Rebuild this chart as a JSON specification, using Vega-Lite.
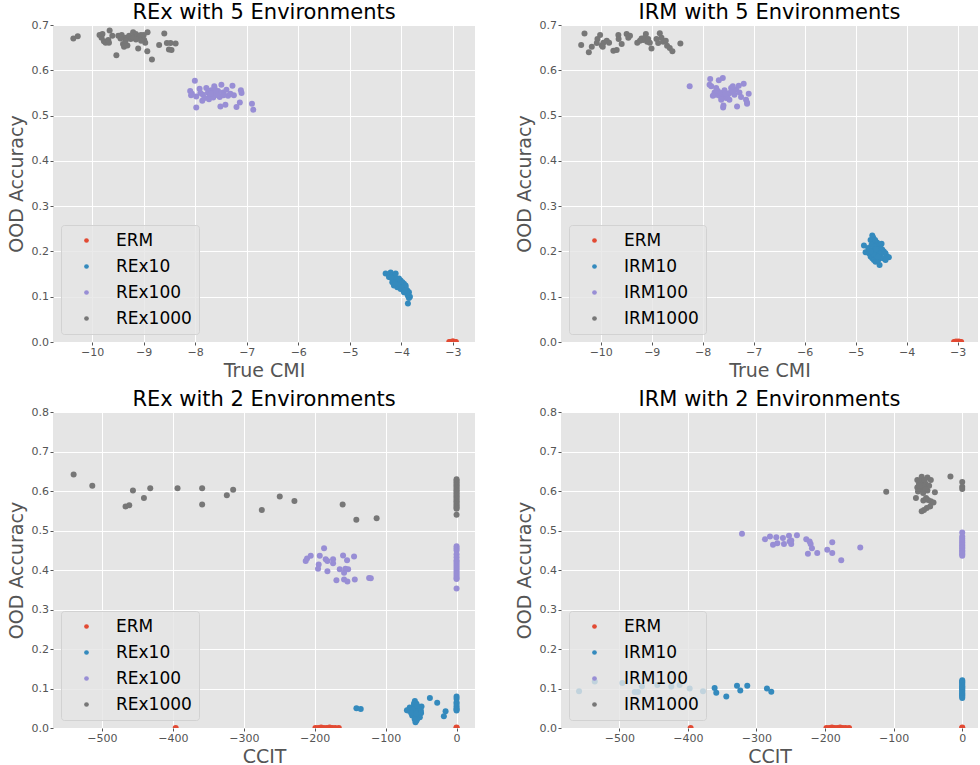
{
  "$schema": "https://vega.github.io/schema/vega-lite/v6.json",
  "background": "white",
  "padding": {"left": 7, "top": 1, "right": 0, "bottom": 0},
  "datasets": {
    "rex5": [
      {"m":"ERM","x":-3.07,"y":0},{"m":"ERM","x":-3.05,"y":0},{"m":"ERM","x":-3.03,"y":0},{"m":"ERM","x":-3.01,"y":0.001},{"m":"ERM","x":-3.0,"y":0},{"m":"ERM","x":-2.99,"y":0.001},{"m":"ERM","x":-2.97,"y":0},{"m":"ERM","x":-2.96,"y":0},{"m":"ERM","x":-2.94,"y":0},
      {"m":"REx10","x":-4.304,"y":0.151},{"m":"REx10","x":-4.207,"y":0.1535},{"m":"REx10","x":-4.24,"y":0.1436},{"m":"REx10","x":-4.175,"y":0.147},{"m":"REx10","x":-4.143,"y":0.136},{"m":"REx10","x":-4.11,"y":0.14},{"m":"REx10","x":-4.078,"y":0.132},{"m":"REx10","x":-4.046,"y":0.1287},{"m":"REx10","x":-4.013,"y":0.136},{"m":"REx10","x":-3.98,"y":0.125},{"m":"REx10","x":-3.949,"y":0.1287},{"m":"REx10","x":-3.917,"y":0.121},{"m":"REx10","x":-3.884,"y":0.1135},{"m":"REx10","x":-3.852,"y":0.1097},{"m":"REx10","x":-3.872,"y":0.102},{"m":"REx10","x":-3.833,"y":0.1},{"m":"REx10","x":-3.872,"y":0.085},{"m":"REx10","x":-4.143,"y":0.125},{"m":"REx10","x":-4.078,"y":0.121},{"m":"REx10","x":-4.013,"y":0.117},{"m":"REx10","x":-3.949,"y":0.117},{"m":"REx10","x":-3.897,"y":0.1097},{"m":"REx10","x":-4.11,"y":0.151},{"m":"REx10","x":-4.175,"y":0.132},{"m":"REx10","x":-4.046,"y":0.14},{"m":"REx10","x":-3.98,"y":0.132},{"m":"REx10","x":-3.917,"y":0.125},{"m":"REx10","x":-3.884,"y":0.106},{"m":"REx10","x":-3.852,"y":0.097},{"m":"REx10","x":-3.949,"y":0.1097},{"m":"REx10","x":-4.2,"y":0.142},{"m":"REx10","x":-4.06,"y":0.125},{"m":"REx10","x":-3.99,"y":0.12},{"m":"REx10","x":-3.93,"y":0.113},{"m":"REx10","x":-4.12,"y":0.128},
      {"m":"REx100","x":-8.007,"y":0.577},{"m":"REx100","x":-8.098,"y":0.554},{"m":"REx100","x":-8.065,"y":0.548},{"m":"REx100","x":-7.98,"y":0.542},{"m":"REx100","x":-7.915,"y":0.559},{"m":"REx100","x":-7.85,"y":0.546},{"m":"REx100","x":-7.785,"y":0.561},{"m":"REx100","x":-7.752,"y":0.551},{"m":"REx100","x":-7.72,"y":0.542},{"m":"REx100","x":-7.687,"y":0.556},{"m":"REx100","x":-7.655,"y":0.55},{"m":"REx100","x":-7.622,"y":0.559},{"m":"REx100","x":-7.59,"y":0.546},{"m":"REx100","x":-7.557,"y":0.554},{"m":"REx100","x":-7.524,"y":0.541},{"m":"REx100","x":-7.492,"y":0.568},{"m":"REx100","x":-7.459,"y":0.551},{"m":"REx100","x":-7.394,"y":0.557},{"m":"REx100","x":-7.362,"y":0.544},{"m":"REx100","x":-7.316,"y":0.548},{"m":"REx100","x":-7.277,"y":0.566},{"m":"REx100","x":-7.863,"y":0.533},{"m":"REx100","x":-7.98,"y":0.518},{"m":"REx100","x":-7.511,"y":0.52},{"m":"REx100","x":-7.414,"y":0.524},{"m":"REx100","x":-7.199,"y":0.519},{"m":"REx100","x":-7.134,"y":0.529},{"m":"REx100","x":-7.101,"y":0.55},{"m":"REx100","x":-7.114,"y":0.556},{"m":"REx100","x":-6.899,"y":0.526},{"m":"REx100","x":-6.873,"y":0.513},{"m":"REx100","x":-7.818,"y":0.539},{"m":"REx100","x":-7.733,"y":0.536},{"m":"REx100","x":-8.08,"y":0.545},{"m":"REx100","x":-7.6,"y":0.553},{"m":"REx100","x":-7.65,"y":0.54},{"m":"REx100","x":-7.7,"y":0.548},{"m":"REx100","x":-7.55,"y":0.545},{"m":"REx100","x":-7.45,"y":0.545},{"m":"REx100","x":-7.25,"y":0.545},{"m":"REx100","x":-7.9,"y":0.55},{"m":"REx100","x":-7.63,"y":0.565},
      {"m":"REx1000","x":-10.365,"y":0.67},{"m":"REx1000","x":-10.28,"y":0.675},{"m":"REx1000","x":-9.857,"y":0.678},{"m":"REx1000","x":-9.818,"y":0.672},{"m":"REx1000","x":-9.772,"y":0.664},{"m":"REx1000","x":-9.739,"y":0.661},{"m":"REx1000","x":-9.687,"y":0.667},{"m":"REx1000","x":-9.661,"y":0.688},{"m":"REx1000","x":-9.609,"y":0.676},{"m":"REx1000","x":-9.674,"y":0.661},{"m":"REx1000","x":-9.492,"y":0.676},{"m":"REx1000","x":-9.427,"y":0.678},{"m":"REx1000","x":-9.401,"y":0.658},{"m":"REx1000","x":-9.381,"y":0.652},{"m":"REx1000","x":-9.316,"y":0.655},{"m":"REx1000","x":-9.349,"y":0.672},{"m":"REx1000","x":-9.283,"y":0.676},{"m":"REx1000","x":-9.251,"y":0.669},{"m":"REx1000","x":-9.205,"y":0.684},{"m":"REx1000","x":-9.153,"y":0.68},{"m":"REx1000","x":-9.12,"y":0.676},{"m":"REx1000","x":-9.088,"y":0.672},{"m":"REx1000","x":-9.055,"y":0.678},{"m":"REx1000","x":-9.023,"y":0.672},{"m":"REx1000","x":-8.99,"y":0.667},{"m":"REx1000","x":-8.97,"y":0.661},{"m":"REx1000","x":-8.925,"y":0.684},{"m":"REx1000","x":-9.107,"y":0.648},{"m":"REx1000","x":-8.93,"y":0.642},{"m":"REx1000","x":-8.84,"y":0.624},{"m":"REx1000","x":-9.53,"y":0.633},{"m":"REx1000","x":-8.7,"y":0.656},{"m":"REx1000","x":-8.6,"y":0.681},{"m":"REx1000","x":-8.55,"y":0.66},{"m":"REx1000","x":-8.48,"y":0.66},{"m":"REx1000","x":-8.38,"y":0.659},{"m":"REx1000","x":-8.51,"y":0.646},{"m":"REx1000","x":-8.46,"y":0.645},{"m":"REx1000","x":-9.2,"y":0.672},{"m":"REx1000","x":-9.05,"y":0.665},{"m":"REx1000","x":-9.15,"y":0.668},{"m":"REx1000","x":-9.35,"y":0.665},{"m":"REx1000","x":-9.0,"y":0.678},{"m":"REx1000","x":-9.45,"y":0.67},{"m":"REx1000","x":-9.8,"y":0.68}
    ],
    "irm5": [
      {"m":"ERM","x":-3.07,"y":0},{"m":"ERM","x":-3.05,"y":0},{"m":"ERM","x":-3.03,"y":0.001},{"m":"ERM","x":-3.01,"y":0},{"m":"ERM","x":-3.0,"y":0},{"m":"ERM","x":-2.98,"y":0.001},{"m":"ERM","x":-2.97,"y":0},{"m":"ERM","x":-2.95,"y":0},{"m":"ERM","x":-2.93,"y":0},
      {"m":"IRM10","x":-4.674,"y":0.235},{"m":"IRM10","x":-4.655,"y":0.23},{"m":"IRM10","x":-4.707,"y":0.225},{"m":"IRM10","x":-4.837,"y":0.213},{"m":"IRM10","x":-4.609,"y":0.2226},{"m":"IRM10","x":-4.577,"y":0.219},{"m":"IRM10","x":-4.544,"y":0.211},{"m":"IRM10","x":-4.512,"y":0.2075},{"m":"IRM10","x":-4.479,"y":0.204},{"m":"IRM10","x":-4.447,"y":0.2},{"m":"IRM10","x":-4.414,"y":0.196},{"m":"IRM10","x":-4.382,"y":0.189},{"m":"IRM10","x":-4.349,"y":0.187},{"m":"IRM10","x":-4.753,"y":0.2075},{"m":"IRM10","x":-4.74,"y":0.196},{"m":"IRM10","x":-4.707,"y":0.189},{"m":"IRM10","x":-4.674,"y":0.185},{"m":"IRM10","x":-4.642,"y":0.181},{"m":"IRM10","x":-4.609,"y":0.177},{"m":"IRM10","x":-4.531,"y":0.17},{"m":"IRM10","x":-4.557,"y":0.181},{"m":"IRM10","x":-4.596,"y":0.192},{"m":"IRM10","x":-4.642,"y":0.204},{"m":"IRM10","x":-4.577,"y":0.2},{"m":"IRM10","x":-4.688,"y":0.215},{"m":"IRM10","x":-4.512,"y":0.192},{"m":"IRM10","x":-4.466,"y":0.185},{"m":"IRM10","x":-4.805,"y":0.198},{"m":"IRM10","x":-4.492,"y":0.217},{"m":"IRM10","x":-4.622,"y":0.211},{"m":"IRM10","x":-4.544,"y":0.196},{"m":"IRM10","x":-4.727,"y":0.204},{"m":"IRM10","x":-4.414,"y":0.181},{"m":"IRM10","x":-4.65,"y":0.195},{"m":"IRM10","x":-4.6,"y":0.205},{"m":"IRM10","x":-4.56,"y":0.188},{"m":"IRM10","x":-4.7,"y":0.2},{"m":"IRM10","x":-4.62,"y":0.225},
      {"m":"IRM100","x":-8.256,"y":0.565},{"m":"IRM100","x":-7.853,"y":0.581},{"m":"IRM100","x":-7.866,"y":0.568},{"m":"IRM100","x":-7.833,"y":0.565},{"m":"IRM100","x":-7.684,"y":0.578},{"m":"IRM100","x":-7.606,"y":0.583},{"m":"IRM100","x":-7.768,"y":0.551},{"m":"IRM100","x":-7.736,"y":0.546},{"m":"IRM100","x":-7.703,"y":0.554},{"m":"IRM100","x":-7.671,"y":0.544},{"m":"IRM100","x":-7.638,"y":0.55},{"m":"IRM100","x":-7.606,"y":0.541},{"m":"IRM100","x":-7.573,"y":0.556},{"m":"IRM100","x":-7.541,"y":0.539},{"m":"IRM100","x":-7.508,"y":0.546},{"m":"IRM100","x":-7.476,"y":0.55},{"m":"IRM100","x":-7.443,"y":0.561},{"m":"IRM100","x":-7.41,"y":0.554},{"m":"IRM100","x":-7.378,"y":0.546},{"m":"IRM100","x":-7.345,"y":0.557},{"m":"IRM100","x":-7.293,"y":0.566},{"m":"IRM100","x":-7.196,"y":0.57},{"m":"IRM100","x":-7.28,"y":0.551},{"m":"IRM100","x":-7.248,"y":0.541},{"m":"IRM100","x":-7.593,"y":0.522},{"m":"IRM100","x":-7.326,"y":0.52},{"m":"IRM100","x":-7.15,"y":0.535},{"m":"IRM100","x":-7.131,"y":0.529},{"m":"IRM100","x":-7.098,"y":0.548},{"m":"IRM100","x":-7.801,"y":0.544},{"m":"IRM100","x":-7.736,"y":0.561},{"m":"IRM100","x":-7.638,"y":0.535},{"m":"IRM100","x":-7.554,"y":0.548},{"m":"IRM100","x":-7.476,"y":0.535},{"m":"IRM100","x":-7.41,"y":0.565},{"m":"IRM100","x":-7.6,"y":0.518},{"m":"IRM100","x":-7.13,"y":0.526},
      {"m":"IRM1000","x":-10.384,"y":0.656},{"m":"IRM1000","x":-10.319,"y":0.681},{"m":"IRM1000","x":-10.234,"y":0.64},{"m":"IRM1000","x":-10.176,"y":0.652},{"m":"IRM1000","x":-10.078,"y":0.66},{"m":"IRM1000","x":-10.065,"y":0.669},{"m":"IRM1000","x":-10.013,"y":0.678},{"m":"IRM1000","x":-9.98,"y":0.655},{"m":"IRM1000","x":-9.948,"y":0.661},{"m":"IRM1000","x":-9.883,"y":0.665},{"m":"IRM1000","x":-9.837,"y":0.661},{"m":"IRM1000","x":-9.753,"y":0.643},{"m":"IRM1000","x":-9.688,"y":0.645},{"m":"IRM1000","x":-9.655,"y":0.678},{"m":"IRM1000","x":-9.649,"y":0.669},{"m":"IRM1000","x":-9.59,"y":0.658},{"m":"IRM1000","x":-9.493,"y":0.68},{"m":"IRM1000","x":-9.427,"y":0.676},{"m":"IRM1000","x":-9.284,"y":0.661},{"m":"IRM1000","x":-9.232,"y":0.665},{"m":"IRM1000","x":-9.2,"y":0.67},{"m":"IRM1000","x":-9.167,"y":0.667},{"m":"IRM1000","x":-9.115,"y":0.68},{"m":"IRM1000","x":-9.089,"y":0.663},{"m":"IRM1000","x":-9.037,"y":0.661},{"m":"IRM1000","x":-9.005,"y":0.648},{"m":"IRM1000","x":-8.907,"y":0.669},{"m":"IRM1000","x":-8.874,"y":0.66},{"m":"IRM1000","x":-8.842,"y":0.682},{"m":"IRM1000","x":-8.809,"y":0.672},{"m":"IRM1000","x":-8.777,"y":0.663},{"m":"IRM1000","x":-8.725,"y":0.665},{"m":"IRM1000","x":-8.699,"y":0.654},{"m":"IRM1000","x":-8.647,"y":0.649},{"m":"IRM1000","x":-8.595,"y":0.642},{"m":"IRM1000","x":-8.438,"y":0.659},{"m":"IRM1000","x":-9.135,"y":0.672},{"m":"IRM1000","x":-9.07,"y":0.669},{"m":"IRM1000","x":-9.961,"y":0.652},{"m":"IRM1000","x":-9.46,"y":0.672}
    ],
    "rex2": [
      {"m":"ERM","x":-396,"y":0},{"m":"ERM","x":-199,"y":0},{"m":"ERM","x":-195,"y":0},{"m":"ERM","x":-191,"y":0.001},{"m":"ERM","x":-187,"y":0},{"m":"ERM","x":-183,"y":0},{"m":"ERM","x":-179,"y":0.001},{"m":"ERM","x":-175,"y":0},{"m":"ERM","x":-171,"y":0},{"m":"ERM","x":-166,"y":0},{"m":"ERM","x":0,"y":0},{"m":"ERM","x":0,"y":0.001},
      {"m":"REx10","x":-141.2,"y":0.05},{"m":"REx10","x":-135.1,"y":0.048},{"m":"REx10","x":-58.8,"y":0.0681},{"m":"REx10","x":-68.2,"y":0.0443},{"m":"REx10","x":-65.9,"y":0.0485},{"m":"REx10","x":-61.2,"y":0.0357},{"m":"REx10","x":-58.8,"y":0.0272},{"m":"REx10","x":-56.5,"y":0.0187},{"m":"REx10","x":-54.1,"y":0.04},{"m":"REx10","x":-51.8,"y":0.0528},{"m":"REx10","x":-49.4,"y":0.0545},{"m":"REx10","x":-56.5,"y":0.0613},{"m":"REx10","x":-63.5,"y":0.04},{"m":"REx10","x":-61.2,"y":0.0528},{"m":"REx10","x":-58.8,"y":0.0443},{"m":"REx10","x":-54.1,"y":0.0315},{"m":"REx10","x":-51.8,"y":0.0272},{"m":"REx10","x":-57.9,"y":0.0145},{"m":"REx10","x":-55.5,"y":0.023},{"m":"REx10","x":-62.6,"y":0.0315},{"m":"REx10","x":-59.8,"y":0.057},{"m":"REx10","x":-50.4,"y":0.0443},{"m":"REx10","x":-60,"y":0.062},{"m":"REx10","x":-52,"y":0.035},{"m":"REx10","x":-57,"y":0.05},{"m":"REx10","x":-66,"y":0.052},{"m":"REx10","x":-53,"y":0.048},{"m":"REx10","x":-59,"y":0.022},{"m":"REx10","x":-55,"y":0.043},{"m":"REx10","x":-62,"y":0.046},{"m":"REx10","x":-56,"y":0.057},{"m":"REx10","x":-64,"y":0.038},{"m":"REx10","x":-50,"y":0.038},{"m":"REx10","x":-70,"y":0.045},{"m":"REx10","x":-57,"y":0.036},{"m":"REx10","x":-37.6,"y":0.0757},{"m":"REx10","x":-27.3,"y":0.0638},{"m":"REx10","x":-15.5,"y":0.0426},{"m":"REx10","x":-17.9,"y":0.0298},{"m":"REx10","x":0,"y":0.08},{"m":"REx10","x":0,"y":0.074},{"m":"REx10","x":0,"y":0.065},{"m":"REx10","x":0,"y":0.061},{"m":"REx10","x":0,"y":0.055},{"m":"REx10","x":0,"y":0.05},{"m":"REx10","x":0,"y":0.047},{"m":"REx10","x":0,"y":0.044},
      {"m":"REx100","x":-212.7,"y":0.423},{"m":"REx100","x":-210.8,"y":0.429},{"m":"REx100","x":-205.6,"y":0.436},{"m":"REx100","x":-192.9,"y":0.436},{"m":"REx100","x":-194.4,"y":0.414},{"m":"REx100","x":-195.3,"y":0.403},{"m":"REx100","x":-186.8,"y":0.455},{"m":"REx100","x":-184.5,"y":0.427},{"m":"REx100","x":-182.1,"y":0.423},{"m":"REx100","x":-182.1,"y":0.397},{"m":"REx100","x":-174.1,"y":0.427},{"m":"REx100","x":-174.1,"y":0.417},{"m":"REx100","x":-160,"y":0.437},{"m":"REx100","x":-154.4,"y":0.425},{"m":"REx100","x":-144.5,"y":0.434},{"m":"REx100","x":-164.7,"y":0.402},{"m":"REx100","x":-158.6,"y":0.393},{"m":"REx100","x":-156.7,"y":0.403},{"m":"REx100","x":-152.9,"y":0.402},{"m":"REx100","x":-169.4,"y":0.374},{"m":"REx100","x":-158.6,"y":0.376},{"m":"REx100","x":-153.9,"y":0.371},{"m":"REx100","x":-143.5,"y":0.376},{"m":"REx100","x":-123.3,"y":0.38},{"m":"REx100","x":-120.9,"y":0.379},{"m":"REx100","x":0,"y":0.46},{"m":"REx100","x":0,"y":0.455},{"m":"REx100","x":0,"y":0.45},{"m":"REx100","x":0,"y":0.44},{"m":"REx100","x":0,"y":0.432},{"m":"REx100","x":0,"y":0.425},{"m":"REx100","x":0,"y":0.42},{"m":"REx100","x":0,"y":0.415},{"m":"REx100","x":0,"y":0.41},{"m":"REx100","x":0,"y":0.405},{"m":"REx100","x":0,"y":0.4},{"m":"REx100","x":0,"y":0.395},{"m":"REx100","x":0,"y":0.39},{"m":"REx100","x":0,"y":0.385},{"m":"REx100","x":0,"y":0.38},{"m":"REx100","x":0,"y":0.377},{"m":"REx100","x":0,"y":0.353},
      {"m":"REx1000","x":-539.9,"y":0.642},{"m":"REx1000","x":-513.6,"y":0.613},{"m":"REx1000","x":-466.7,"y":0.561},{"m":"REx1000","x":-461.5,"y":0.564},{"m":"REx1000","x":-456.3,"y":0.601},{"m":"REx1000","x":-440.8,"y":0.582},{"m":"REx1000","x":-431.9,"y":0.607},{"m":"REx1000","x":-393.4,"y":0.607},{"m":"REx1000","x":-358.7,"y":0.607},{"m":"REx1000","x":-358.7,"y":0.566},{"m":"REx1000","x":-323.9,"y":0.589},{"m":"REx1000","x":-315,"y":0.603},{"m":"REx1000","x":-274.6,"y":0.552},{"m":"REx1000","x":-249.3,"y":0.586},{"m":"REx1000","x":-228.6,"y":0.575},{"m":"REx1000","x":-160.6,"y":0.566},{"m":"REx1000","x":-141.3,"y":0.527},{"m":"REx1000","x":-112.7,"y":0.531},{"m":"REx1000","x":0,"y":0.63},{"m":"REx1000","x":0,"y":0.626},{"m":"REx1000","x":0,"y":0.622},{"m":"REx1000","x":0,"y":0.618},{"m":"REx1000","x":0,"y":0.614},{"m":"REx1000","x":0,"y":0.61},{"m":"REx1000","x":0,"y":0.606},{"m":"REx1000","x":0,"y":0.602},{"m":"REx1000","x":0,"y":0.598},{"m":"REx1000","x":0,"y":0.594},{"m":"REx1000","x":0,"y":0.59},{"m":"REx1000","x":0,"y":0.586},{"m":"REx1000","x":0,"y":0.582},{"m":"REx1000","x":0,"y":0.578},{"m":"REx1000","x":0,"y":0.574},{"m":"REx1000","x":0,"y":0.57},{"m":"REx1000","x":0,"y":0.566},{"m":"REx1000","x":0,"y":0.562},{"m":"REx1000","x":0,"y":0.558},{"m":"REx1000","x":0,"y":0.555},{"m":"REx1000","x":0,"y":0.54}
    ],
    "irm2": [
      {"m":"ERM","x":-396,"y":0},{"m":"ERM","x":-198,"y":0},{"m":"ERM","x":-194,"y":0},{"m":"ERM","x":-190,"y":0.001},{"m":"ERM","x":-186,"y":0},{"m":"ERM","x":-182,"y":0},{"m":"ERM","x":-178,"y":0.001},{"m":"ERM","x":-174,"y":0},{"m":"ERM","x":-170,"y":0},{"m":"ERM","x":-165,"y":0},{"m":"ERM","x":0,"y":0},{"m":"ERM","x":0,"y":0.001},
      {"m":"IRM10","x":-558.7,"y":0.093},{"m":"IRM10","x":-535.8,"y":0.118},{"m":"IRM10","x":-495.6,"y":0.114},{"m":"IRM10","x":-477.5,"y":0.091},{"m":"IRM10","x":-472.7,"y":0.091},{"m":"IRM10","x":-466.9,"y":0.106},{"m":"IRM10","x":-444.6,"y":0.109},{"m":"IRM10","x":-424.2,"y":0.105},{"m":"IRM10","x":-412,"y":0.109},{"m":"IRM10","x":-397.4,"y":0.1},{"m":"IRM10","x":-378,"y":0.093},{"m":"IRM10","x":-361,"y":0.101},{"m":"IRM10","x":-358.6,"y":0.089},{"m":"IRM10","x":-344,"y":0.08},{"m":"IRM10","x":-328.4,"y":0.107},{"m":"IRM10","x":-323.6,"y":0.095},{"m":"IRM10","x":-313.4,"y":0.107},{"m":"IRM10","x":-284.7,"y":0.1},{"m":"IRM10","x":-278.4,"y":0.092},{"m":"IRM10","x":0,"y":0.121},{"m":"IRM10","x":0,"y":0.118},{"m":"IRM10","x":0,"y":0.115},{"m":"IRM10","x":0,"y":0.112},{"m":"IRM10","x":0,"y":0.109},{"m":"IRM10","x":0,"y":0.106},{"m":"IRM10","x":0,"y":0.103},{"m":"IRM10","x":0,"y":0.1},{"m":"IRM10","x":0,"y":0.097},{"m":"IRM10","x":0,"y":0.094},{"m":"IRM10","x":0,"y":0.091},{"m":"IRM10","x":0,"y":0.088},{"m":"IRM10","x":0,"y":0.085},{"m":"IRM10","x":0,"y":0.082},{"m":"IRM10","x":0,"y":0.079},{"m":"IRM10","x":0,"y":0.076},
      {"m":"IRM100","x":-321.1,"y":0.492},{"m":"IRM100","x":-287.6,"y":0.478},{"m":"IRM100","x":-280.3,"y":0.485},{"m":"IRM100","x":-275.9,"y":0.464},{"m":"IRM100","x":-271.1,"y":0.483},{"m":"IRM100","x":-269.6,"y":0.468},{"m":"IRM100","x":-261.4,"y":0.481},{"m":"IRM100","x":-259.9,"y":0.466},{"m":"IRM100","x":-252.6,"y":0.487},{"m":"IRM100","x":-249.3,"y":0.475},{"m":"IRM100","x":-249.3,"y":0.466},{"m":"IRM100","x":-241,"y":0.488},{"m":"IRM100","x":-227.4,"y":0.478},{"m":"IRM100","x":-222.5,"y":0.472},{"m":"IRM100","x":-221,"y":0.466},{"m":"IRM100","x":-219.1,"y":0.455},{"m":"IRM100","x":-225,"y":0.441},{"m":"IRM100","x":-211.4,"y":0.443},{"m":"IRM100","x":-196.8,"y":0.451},{"m":"IRM100","x":-189.5,"y":0.47},{"m":"IRM100","x":-189.5,"y":0.443},{"m":"IRM100","x":-176.4,"y":0.425},{"m":"IRM100","x":-148.7,"y":0.457},{"m":"IRM100","x":-251.6,"y":0.472},{"m":"IRM100","x":0,"y":0.495},{"m":"IRM100","x":0,"y":0.485},{"m":"IRM100","x":0,"y":0.48},{"m":"IRM100","x":0,"y":0.475},{"m":"IRM100","x":0,"y":0.47},{"m":"IRM100","x":0,"y":0.466},{"m":"IRM100","x":0,"y":0.462},{"m":"IRM100","x":0,"y":0.458},{"m":"IRM100","x":0,"y":0.455},{"m":"IRM100","x":0,"y":0.45},{"m":"IRM100","x":0,"y":0.447},{"m":"IRM100","x":0,"y":0.443},{"m":"IRM100","x":0,"y":0.44},{"m":"IRM100","x":0,"y":0.436},
      {"m":"IRM1000","x":-110.8,"y":0.598},{"m":"IRM1000","x":-17.2,"y":0.637},{"m":"IRM1000","x":0,"y":0.623},{"m":"IRM1000","x":0,"y":0.611},{"m":"IRM1000","x":0,"y":0.605},{"m":"IRM1000","x":-65.5,"y":0.628},{"m":"IRM1000","x":-59.1,"y":0.636},{"m":"IRM1000","x":-50.7,"y":0.634},{"m":"IRM1000","x":-45.8,"y":0.628},{"m":"IRM1000","x":-63.1,"y":0.618},{"m":"IRM1000","x":-58.1,"y":0.622},{"m":"IRM1000","x":-53.2,"y":0.618},{"m":"IRM1000","x":-48.3,"y":0.613},{"m":"IRM1000","x":-65.5,"y":0.609},{"m":"IRM1000","x":-60.6,"y":0.605},{"m":"IRM1000","x":-55.7,"y":0.609},{"m":"IRM1000","x":-50.7,"y":0.601},{"m":"IRM1000","x":-64.5,"y":0.599},{"m":"IRM1000","x":-39.9,"y":0.597},{"m":"IRM1000","x":-67.5,"y":0.582},{"m":"IRM1000","x":-56.7,"y":0.576},{"m":"IRM1000","x":-52.7,"y":0.582},{"m":"IRM1000","x":-49.8,"y":0.577},{"m":"IRM1000","x":-45.8,"y":0.574},{"m":"IRM1000","x":-41.9,"y":0.571},{"m":"IRM1000","x":-46.8,"y":0.561},{"m":"IRM1000","x":-51.7,"y":0.557},{"m":"IRM1000","x":-55.7,"y":0.552},{"m":"IRM1000","x":-59.1,"y":0.549},{"m":"IRM1000","x":-61.6,"y":0.626},{"m":"IRM1000","x":-54.7,"y":0.628},{"m":"IRM1000","x":-58.1,"y":0.613},{"m":"IRM1000","x":-53.2,"y":0.605},{"m":"IRM1000","x":-62,"y":0.613},{"m":"IRM1000","x":-57,"y":0.595}
    ]
  },
  "columns": 2,
  "spacing": {"row": 70, "column": 86},
  "bounds": "flush",
  "concat": [
    {
      "width": 422, "height": 317,
      "title": "REx with 5 Environments",
      "data": {"name": "rex5"},
      "mark": {"type": "circle", "size": 36, "opacity": 1, "clip": true},
      "encoding": {
        "x": {"field": "x", "type": "quantitative", "scale": {"domain": [-10.76, -2.57], "nice": false, "zero": false}, "axis": {"title": "True CMI", "values": [-10, -9, -8, -7, -6, -5, -4, -3], "format": "d"}},
        "y": {"field": "y", "type": "quantitative", "scale": {"domain": [0, 0.7], "nice": false}, "axis": {"title": "OOD Accuracy", "values": [0, 0.1, 0.2, 0.3, 0.4, 0.5, 0.6, 0.7], "format": ".1f"}},
        "color": {"field": "m", "type": "nominal", "scale": {"domain": ["ERM", "REx10", "REx100", "REx1000"], "range": ["#E24A33", "#348ABD", "#988ED5", "#777777"]}, "legend": {"title": null}}
      }
    },
    {
      "width": 417, "height": 317,
      "title": "IRM with 5 Environments",
      "data": {"name": "irm5"},
      "mark": {"type": "circle", "size": 36, "opacity": 1, "clip": true},
      "encoding": {
        "x": {"field": "x", "type": "quantitative", "scale": {"domain": [-10.78, -2.6], "nice": false, "zero": false}, "axis": {"title": "True CMI", "values": [-10, -9, -8, -7, -6, -5, -4, -3], "format": "d"}},
        "y": {"field": "y", "type": "quantitative", "scale": {"domain": [0, 0.7], "nice": false}, "axis": {"title": "OOD Accuracy", "values": [0, 0.1, 0.2, 0.3, 0.4, 0.5, 0.6, 0.7], "format": ".1f"}},
        "color": {"field": "m", "type": "nominal", "scale": {"domain": ["ERM", "IRM10", "IRM100", "IRM1000"], "range": ["#E24A33", "#348ABD", "#988ED5", "#777777"]}, "legend": {"title": null}}
      }
    },
    {
      "width": 422, "height": 316,
      "title": "REx with 2 Environments",
      "data": {"name": "rex2"},
      "mark": {"type": "circle", "size": 36, "opacity": 1, "clip": true},
      "encoding": {
        "x": {"field": "x", "type": "quantitative", "scale": {"domain": [-569, 26], "nice": false, "zero": false}, "axis": {"title": "CCIT", "values": [-500, -400, -300, -200, -100, 0], "format": "d"}},
        "y": {"field": "y", "type": "quantitative", "scale": {"domain": [0, 0.8], "nice": false}, "axis": {"title": "OOD Accuracy", "values": [0, 0.1, 0.2, 0.3, 0.4, 0.5, 0.6, 0.7, 0.8], "format": ".1f"}},
        "color": {"field": "m", "type": "nominal", "scale": {"domain": ["ERM", "REx10", "REx100", "REx1000"], "range": ["#E24A33", "#348ABD", "#988ED5", "#777777"]}, "legend": {"title": null}}
      }
    },
    {
      "width": 417, "height": 316,
      "title": "IRM with 2 Environments",
      "data": {"name": "irm2"},
      "mark": {"type": "circle", "size": 36, "opacity": 1, "clip": true},
      "encoding": {
        "x": {"field": "x", "type": "quantitative", "scale": {"domain": [-585, 23], "nice": false, "zero": false}, "axis": {"title": "CCIT", "values": [-500, -400, -300, -200, -100, 0], "format": "d"}},
        "y": {"field": "y", "type": "quantitative", "scale": {"domain": [0, 0.8], "nice": false}, "axis": {"title": "OOD Accuracy", "values": [0, 0.1, 0.2, 0.3, 0.4, 0.5, 0.6, 0.7, 0.8], "format": ".1f"}},
        "color": {"field": "m", "type": "nominal", "scale": {"domain": ["ERM", "IRM10", "IRM100", "IRM1000"], "range": ["#E24A33", "#348ABD", "#988ED5", "#777777"]}, "legend": {"title": null}}
      }
    }
  ],
  "resolve": {"scale": {"x": "independent", "y": "independent", "color": "independent"}, "legend": {"color": "independent"}, "axis": {"x": "independent", "y": "independent"}},
  "config": {
    "view": {"fill": "#E5E5E5", "stroke": null},
    "font": "DejaVu Sans",
    "axis": {"domain": false, "grid": true, "gridColor": "#FFFFFF", "gridWidth": 1, "tickColor": "#555555", "tickSize": 3, "labelPadding": 1.5, "labelColor": "#555555", "labelFont": "DejaVu Sans", "labelFontSize": 11, "titleFont": "DejaVu Sans", "titleFontSize": 19, "titleFontWeight": "normal", "titleColor": "#555555"},
    "axisX": {"titlePadding": 3.5},
    "axisY": {"titlePadding": 4.5},
    "title": {"font": "DejaVu Sans", "fontSize": 21, "fontWeight": "normal", "color": "#000000", "anchor": "middle", "baseline": "alphabetic", "offset": -3.5, "frame": "group"},
    "legend": {"orient": "bottom-left", "offset": 8, "fillColor": "rgba(229,229,229,0.8)", "strokeColor": "#D2D2D2", "cornerRadius": 3, "padding": 7, "labelFont": "DejaVu Sans", "labelFontSize": 17, "labelColor": "#000000", "symbolType": "circle", "symbolSize": 22, "symbolStrokeWidth": 0, "rowPadding": 8, "labelOffset": 21, "symbolOffset": 10}
  }
}
